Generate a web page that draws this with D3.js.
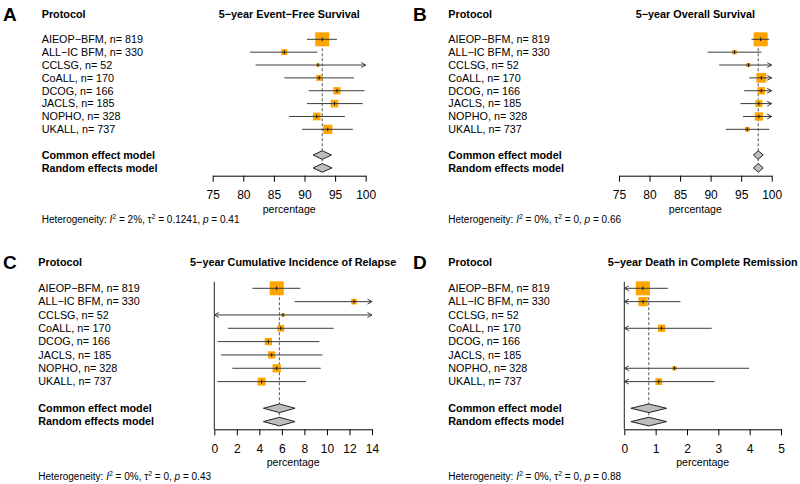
<!DOCTYPE html>
<html>
<head>
<meta charset="utf-8">
<script src="https://cdn.jsdelivr.net/npm/d3@7"></script>
<style>
  html, body { margin: 0; padding: 0; background: #fff; }
  svg { display: block; font-family: "Liberation Sans", Arial, Helvetica, sans-serif; }
</style>
</head>
<body>
<svg id="chart" width="800" height="484"></svg>
<script>
// ---------------- data ----------------
const protocols = ["AIEOP\u2212BFM, n= 819", "ALL\u2212IC BFM, n= 330", "CCLSG, n= 52", "CoALL, n= 170",
                   "DCOG, n= 166", "JACLS, n= 185", "NOPHO, n= 328", "UKALL, n= 737"];
const modelLabels = ["Common effect model", "Random effects model"];

// A: 5-year Event-Free Survival
const efsEst = [92.9, 86.7, 92.2, 92.4, 95.3, 94.9, 92.0, 93.8];
const efsLo  = [90.4, 81.1, 82.0, 86.7, 90.7, 90.4, 87.5, 89.6];
const efsHi  = [95.3, 92.1, 101.0, 98.1, 99.8, 99.5, 96.6, 97.9];
const efsW   = [36.6, 6.7, 2.0, 6.7, 9.9, 11.0, 11.0, 16.0];
const efsCommon = [91.4, 92.9, 94.4];
const efsRandom = [91.4, 92.9, 94.5];
const efsTicks = [75, 80, 85, 90, 95, 100];

// B: 5-year Overall Survival
const osEst = [98.2, 93.9, 96.2, 98.3, 98.3, 97.9, 97.9, 96.0];
const osLo  = [96.7, 89.5, 91.4, 96.3, 95.5, 94.9, 95.3, 92.5];
const osHi  = [99.6, 98.3, 101, 101, 101, 101, 101, 99.6];
const osW   = [37.5, 3.8, 3.2, 18.4, 10.3, 9.2, 13.2, 4.3];
const osCommon = [97.0, 97.8, 98.6];
const osRandom = [97.0, 97.8, 98.6];
const osTicks = [75, 80, 85, 90, 95, 100];

// C: 5-year Cumulative Incidence of Relapse
const cirEst = [5.54, 12.4, 6.1, 5.9, 4.8, 5.1, 5.54, 4.2];
const cirLo  = [3.38, 7.14, -0.5, 1.22, 0.3, 0.6, 1.6, 0.27];
const cirHi  = [7.64, 15.0, 15.0, 10.6, 9.33, 9.6, 9.45, 8.14];
const cirW   = [37.5, 6.1, 2.1, 8.6, 10.1, 10.1, 13.2, 12.2];
const cirCommon = [4.36, 5.78, 7.17];
const cirRandom = [4.36, 5.78, 7.17];
const cirTicks = [0, 2, 4, 6, 8, 10, 12, 14];

// D: 5-year Death in Complete Remission
const dcrEst = [0.59, 0.60, null, 1.19, null, null, 1.60, 1.10];
const dcrLo  = [-0.1, -0.1, null, -0.1, null, null, -0.1, -0.1];
const dcrHi  = [1.39, 1.79, null, 2.79, null, null, 3.98, 2.88];
const dcrW   = [49.2, 21.6, 0, 13.3, 0, 0, 4.6, 11.3];
const dcrCommon = [0.21, 0.78, 1.35];
const dcrRandom = [0.21, 0.78, 1.35];
const dcrTicks = [0, 1, 2, 3, 4, 5];

// ---------------- layout ----------------
const panels = [
  { letter: "A", title: "5\u2212year Event\u2212Free Survival",
    est: efsEst, lo: efsLo, hi: efsHi, w: efsW, common: efsCommon, random: efsRandom, ticks: efsTicks,
    het: { i2: "2%", tau2: "0.1241", p: "0.41" }, nullLine: false,
    letterX: 3, labelX: 41.7, headY: 14, row0: 39.3, rowH: 12.86, axisY: 175.7, x0: 212.7, x1: 365.7,
    pctY: 209, hetY: 219 },
  { letter: "B", title: "5\u2212year Overall Survival",
    est: osEst, lo: osLo, hi: osHi, w: osW, common: osCommon, random: osRandom, ticks: osTicks,
    het: { i2: "0%", tau2: "0", p: "0.66" }, nullLine: false,
    letterX: 413, labelX: 448.3, headY: 14, row0: 39.3, rowH: 12.86, axisY: 175.7, x0: 619, x1: 771.7,
    pctY: 209, hetY: 219 },
  { letter: "C", title: "5\u2212year Cumulative Incidence of Relapse",
    est: cirEst, lo: cirLo, hi: cirHi, w: cirW, common: cirCommon, random: cirRandom, ticks: cirTicks,
    het: { i2: "0%", tau2: "0", p: "0.43" }, nullLine: true,
    letterX: 3, labelX: 38.3, headY: 262.3, row0: 288.3, rowH: 13.33, axisY: 429.3, x0: 214.3, x1: 372,
    pctY: 462, hetY: 476 },
  { letter: "D", title: "5\u2212year Death in Complete Remission",
    est: dcrEst, lo: dcrLo, hi: dcrHi, w: dcrW, common: dcrCommon, random: dcrRandom, ticks: dcrTicks,
    het: { i2: "0%", tau2: "0", p: "0.88" }, nullLine: true,
    letterX: 413, labelX: 448.3, headY: 262.3, row0: 288.3, rowH: 13.33, axisY: 429.3, x0: 624.3, x1: 781,
    pctY: 462, hetY: 476 }
];

const svg = d3.select("#chart");
const MAX_BOX = 14;
const DIAM_H = 4.3;
const FS = 10.8;
const lineCol = "#3a3a3a";

function arrowPath(xTip, y, dir) {
  const L = 4.5, H = 2.4;
  return `M${xTip - dir * L},${y - H} L${xTip},${y} L${xTip - dir * L},${y + H}`;
}

panels.forEach(P => {
  const g = svg.append("g");
  const dom = [P.ticks[0], P.ticks[P.ticks.length - 1]];
  const x = d3.scaleLinear().domain(dom).range([P.x0, P.x1]);
  const yRow = i => P.row0 + i * P.rowH;
  const wMax = d3.max(P.w);
  const boxSide = d3.scaleSqrt().domain([0, wMax]).range([0, MAX_BOX]);

  // panel letter
  g.append("text").attr("x", P.letterX).attr("y", P.headY + 6.5)
    .attr("font-size", 19).attr("font-weight", "bold").text(P.letter);

  // headers
  g.append("text").attr("x", P.labelX).attr("y", P.headY).attr("dy", "0.35em")
    .attr("font-size", FS).attr("font-weight", "bold").text("Protocol");
  g.append("text").attr("x", (P.x0 + P.x1) / 2).attr("y", P.headY).attr("dy", "0.35em")
    .attr("text-anchor", "middle").attr("font-size", FS).attr("font-weight", "bold").text(P.title);

  // study labels
  g.selectAll("text.study").data(protocols).enter().append("text")
    .attr("class", "study")
    .attr("x", P.labelX).attr("y", (d, i) => yRow(i)).attr("dy", "0.35em")
    .attr("font-size", FS).text(d => d);

  // model labels
  g.selectAll("text.model").data(modelLabels).enter().append("text")
    .attr("class", "model")
    .attr("x", P.labelX).attr("y", (d, i) => yRow(9 + i)).attr("dy", "0.35em")
    .attr("font-size", FS).attr("font-weight", "bold").text(d => d);

  // null line
  if (P.nullLine) {
    g.append("line").attr("x1", x(0)).attr("x2", x(0))
      .attr("y1", yRow(0) - 6.5).attr("y2", P.axisY)
      .attr("stroke", "#222").attr("stroke-width", 1);
  }

  // effect (dashed) line
  g.append("line").attr("x1", x(P.common[1])).attr("x2", x(P.common[1]))
    .attr("y1", yRow(0) - 6).attr("y2", yRow(10) + DIAM_H)
    .attr("stroke", "#666").attr("stroke-width", 1.1).attr("stroke-dasharray", "3,2");

  const studies = P.est.map((e, i) => ({ e, lo: P.lo[i], hi: P.hi[i], w: P.w[i], i }))
    .filter(d => d.e !== null);

  // boxes
  g.selectAll("rect.box").data(studies).enter().append("rect")
    .attr("x", d => x(d.e) - boxSide(d.w) / 2)
    .attr("y", d => yRow(d.i) - boxSide(d.w) / 2)
    .attr("width", d => boxSide(d.w)).attr("height", d => boxSide(d.w))
    .attr("fill", "#FFA500");

  // CI lines (clipped to axis range) and arrows
  studies.forEach(d => {
    const y = yRow(d.i);
    const a = Math.max(d.lo, dom[0]), b = Math.min(d.hi, dom[1]);
    g.append("line").attr("x1", x(a)).attr("x2", x(b)).attr("y1", y).attr("y2", y)
      .attr("stroke", lineCol).attr("stroke-width", 1);
    if (d.hi > dom[1]) g.append("path").attr("d", arrowPath(x(dom[1]), y, 1))
      .attr("fill", "none").attr("stroke", lineCol).attr("stroke-width", 1);
    if (d.lo < dom[0]) g.append("path").attr("d", arrowPath(x(dom[0]), y, -1))
      .attr("fill", "none").attr("stroke", lineCol).attr("stroke-width", 1);
    g.append("line").attr("x1", x(d.e)).attr("x2", x(d.e)).attr("y1", y - 1.8).attr("y2", y + 1.8)
      .attr("stroke", "#111").attr("stroke-width", 1);
  });

  // diamonds
  [P.common, P.random].forEach((m, k) => {
    const y = yRow(9 + k);
    g.append("path")
      .attr("d", `M${x(m[0])},${y} L${x(m[1])},${y - DIAM_H} L${x(m[2])},${y} L${x(m[1])},${y + DIAM_H} Z`)
      .attr("fill", "#BEBEBE").attr("stroke", "#222").attr("stroke-width", 1);
  });

  // axis
  const axis = d3.axisBottom(x).tickValues(P.ticks).tickSize(6).tickSizeOuter(0).tickPadding(9)
    .tickFormat(d3.format("d"));
  const ag = g.append("g").attr("transform", `translate(0,${P.axisY})`).call(axis);
  ag.selectAll("text").attr("font-size", 12).attr("fill", "#000")
    .attr("font-family", "\"Liberation Sans\", Arial, sans-serif");
  ag.selectAll("line, path").attr("stroke", "#000");

  g.append("text").attr("x", (P.x0 + P.x1) / 2).attr("y", P.pctY).attr("dy", "0.35em")
    .attr("text-anchor", "middle").attr("font-size", 10.6).text("percentage");

  // heterogeneity
  const ht = g.append("text").attr("x", P.labelX).attr("y", P.hetY).attr("dy", "0.35em").attr("font-size", 10);
  ht.append("tspan").text("Heterogeneity: ");
  ht.append("tspan").attr("font-style", "italic").text("I");
  ht.append("tspan").attr("font-size", 7).attr("dy", -4).text("2");
  ht.append("tspan").attr("dy", 4).text(` = ${P.het.i2}, \u03C4`);
  ht.append("tspan").attr("font-size", 7).attr("dy", -4).text("2");
  ht.append("tspan").attr("dy", 4).text(` = ${P.het.tau2}, `);
  ht.append("tspan").attr("font-style", "italic").text("p");
  ht.append("tspan").text(` = ${P.het.p}`);
});
</script>
</body>
</html>
